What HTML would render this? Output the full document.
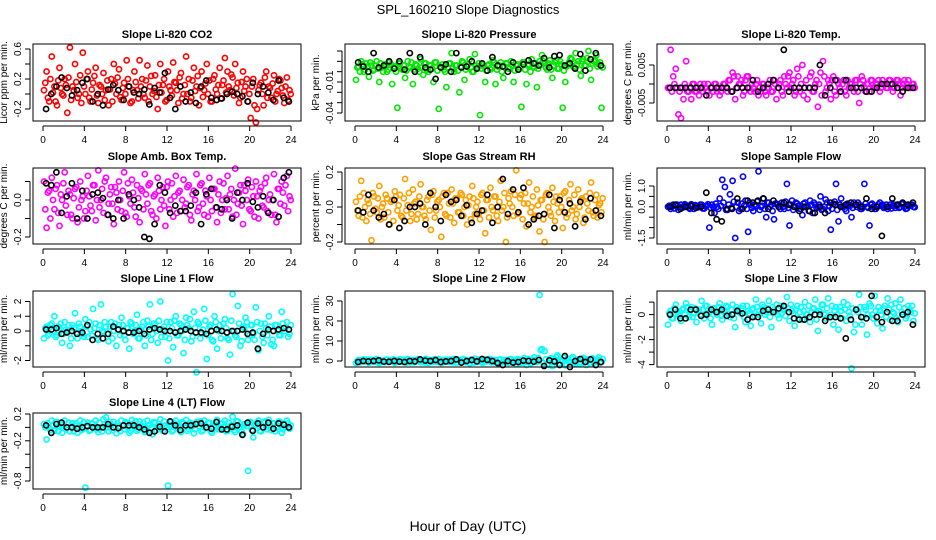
<!DOCTYPE html>
<html><head><meta charset="utf-8"><style>
html,body{margin:0;padding:0;background:#fff;}
svg{display:block;font-family:"Liberation Sans",sans-serif;}
</style></head><body>
<svg id="chart" width="936" height="540" viewBox="0 0 936 540" xmlns="http://www.w3.org/2000/svg">
<rect width="936" height="540" fill="#fff"/>
<text x="468" y="14" font-size="13" text-anchor="middle">SPL_160210  Slope Diagnostics</text>
<text x="468" y="531" font-size="14" text-anchor="middle">Hour of Day (UTC)</text>
<g id="panels"></g>
</svg>
<script>
const hoursC=[0.1,0.35,0.6,0.85,1.1,1.35,1.6,1.85,2.1,2.35,2.6,2.85,3.1,3.35,3.6,3.85,4.1,4.35,4.6,4.85,5.1,5.35,5.6,5.85,6.1,6.35,6.6,6.85,7.1,7.35,7.6,7.85,8.1,8.35,8.6,8.85,9.1,9.35,9.6,9.85,10.1,10.35,10.6,10.85,11.1,11.35,11.6,11.85,12.1,12.35,12.6,12.85,13.1,13.35,13.6,13.85,14.1,14.35,14.6,14.85,15.1,15.35,15.6,15.85,16.1,16.35,16.6,16.85,17.1,17.35,17.6,17.85,18.1,18.35,18.6,18.85,19.1,19.35,19.6,19.85,20.1,20.35,20.6,20.85,21.1,21.35,21.6,21.85,22.1,22.35,22.6,22.85,23.1,23.35,23.6,23.85];
const hoursC2=[0.22,0.47,0.72,0.97,1.22,1.47,1.72,1.97,2.22,2.47,2.72,2.97,3.22,3.47,3.72,3.97,4.22,4.47,4.72,4.97,5.22,5.47,5.72,5.97,6.22,6.47,6.72,6.97,7.22,7.47,7.72,7.97,8.22,8.47,8.72,8.97,9.22,9.47,9.72,9.97,10.22,10.47,10.72,10.97,11.22,11.47,11.72,11.97,12.22,12.47,12.72,12.97,13.22,13.47,13.72,13.97,14.22,14.47,14.72,14.97,15.22,15.47,15.72,15.97,16.22,16.47,16.72,16.97,17.22,17.47,17.72,17.97,18.22,18.47,18.72,18.97,19.22,19.47,19.72,19.97,20.22,20.47,20.72,20.97,21.22,21.47,21.72,21.97,22.22,22.47,22.72,22.97,23.22,23.47,23.72,23.97];
const hoursK=[0.3,0.8,1.3,1.8,2.3,2.8,3.3,3.8,4.3,4.8,5.3,5.8,6.3,6.8,7.3,7.8,8.3,8.8,9.3,9.8,10.3,10.8,11.3,11.8,12.3,12.8,13.3,13.8,14.3,14.8,15.3,15.8,16.3,16.8,17.3,17.8,18.3,18.8,19.3,19.8,20.3,20.8,21.3,21.8,22.3,22.8,23.3,23.8];
const xTicks=[0,4,8,12,16,20,24];

const co2=[0.05,0.3,-0.1,0.5,0.1,-0.15,0.35,0.0,0.2,-0.25,0.62,0.1,0.4,-0.05,0.25,0.55,0.0,0.3,-0.1,0.15,0.35,-0.12,0.1,0.28,0.05,-0.15,0.2,0.4,0.0,0.33,-0.08,0.15,0.45,0.1,-0.1,0.3,0.05,0.45,0.2,-0.05,0.38,0.1,0.0,0.25,-0.2,0.4,0.12,-0.1,0.3,0.05,0.42,0.15,-0.12,0.28,0.0,0.5,0.2,-0.05,0.35,0.1,-0.15,0.3,0.05,0.4,0.18,-0.1,0.25,0.0,0.35,0.12,0.48,0.3,0.05,0.22,0.4,0.15,-0.05,0.3,0.1,-0.1,-0.32,0.2,-0.38,0.05,0.15,-0.15,0.3,0.1,-0.05,0.25,0.0,0.2,0.08,-0.12,0.22,0.05];
const co2B=[0.15,-0.05,0.2,0.02,-0.1,0.18,0.08,-0.02,0.12,0.22,-0.08,0.05,0.16,0.0,-0.12,0.1,0.2,-0.05,0.06,0.24,-0.02,0.12,0.0,-0.08,0.18,0.06,-0.1,0.14,0.22,-0.04,0.08,0.0,0.2,-0.12,0.05,0.16,-0.06,0.1,0.0,0.18,-0.1,0.24,0.04,-0.04,0.12,0.02,0.2,-0.08,0.1,-0.02,0.16,0.05,0.22,-0.06,0.12,0.0,-0.1,0.18,0.04,0.24,0.08,-0.04,0.14,0.0,-0.1,0.2,0.06,0.12,-0.06,0.18,0.02,0.1,0.26,-0.02,0.08,-0.12,0.16,0.04,0.2,0.0,0.1,-0.15,-0.2,0.12,0.0,0.22,-0.05,0.08,0.14,-0.1,0.04,0.18,-0.02,0.1,-0.08,0.0];
const co2K=[-0.2,0.0,0.1,0.22,0.08,-0.02,0.05,0.15,0.2,-0.1,0.0,-0.15,0.06,0.12,0.05,-0.08,0.1,0.02,0.0,0.06,-0.14,0.08,0.02,0.28,-0.05,-0.2,0.1,-0.1,0.02,-0.12,0.1,0.18,-0.05,-0.08,-0.06,0.0,0.03,0.0,-0.03,-0.1,0.15,0.0,0.1,0.02,-0.08,0.18,-0.05,-0.1];
const pres=[-0.008,0.005,0.01,0.0,0.008,-0.005,0.006,0.002,0.01,-0.01,0.004,0.007,0.0,0.009,-0.012,0.005,-0.035,0.008,0.002,-0.006,0.01,0.004,-0.012,0.007,0.003,0.012,-0.003,0.008,0.0,0.006,-0.01,0.009,-0.036,0.004,0.002,-0.015,0.008,0.018,0.0,0.006,-0.02,0.01,-0.008,0.005,0.012,0.0,0.017,0.004,-0.042,0.007,-0.01,0.006,0.002,0.011,-0.012,0.005,0.009,-0.006,0.008,0.003,0.01,-0.01,0.006,0.002,-0.034,0.009,-0.012,0.007,0.012,0.004,-0.015,0.01,0.016,0.008,0.002,0.011,-0.006,0.009,0.003,0.01,-0.035,-0.01,0.007,0.013,0.005,0.018,0.01,-0.004,0.012,0.006,0.02,-0.008,0.01,0.016,0.007,-0.035];
const presB=[0.004,0.0,0.007,0.002,0.005,0.009,0.001,0.006,0.003,0.008,0.0,0.005,0.002,0.007,0.004,0.0,0.008,0.003,0.006,0.001,0.005,0.009,0.002,0.006,0.0,0.004,0.008,0.002,0.006,0.003,0.009,0.001,0.005,0.007,0.0,0.004,0.008,0.003,0.006,0.001,0.005,0.009,0.002,0.007,0.004,0.0,0.006,0.008,0.003,0.005,0.001,0.007,0.004,0.009,0.002,0.006,0.0,0.005,0.008,0.003,0.006,0.001,0.007,0.004,0.009,0.002,0.006,0.0,0.005,0.008,0.003,0.007,0.01,0.004,0.008,0.002,0.006,0.011,0.003,0.007,0.001,0.005,0.009,0.012,0.004,0.007,0.002,0.01,0.006,0.013,0.003,0.008,0.011,0.005,0.009,0.004];
const presK=[0.009,0.005,0.0,0.018,0.004,0.006,0.01,0.003,0.01,0.002,0.018,0.0,0.014,0.004,0.002,-0.007,0.004,0.007,0.0,0.018,0.004,0.005,0.01,0.003,0.008,0.001,0.014,0.006,0.005,0.0,0.009,0.002,0.007,0.011,0.008,0.006,0.013,0.004,0.015,0.016,0.006,0.008,0.003,0.017,0.001,0.012,0.018,0.006];
const ltemp=[-0.001,0.009,0.002,0.004,-0.008,-0.009,-0.004,0.006,-0.002,-0.004,0.0,-0.002,-0.003,-0.001,0.0,-0.002,-0.003,-0.001,0.0,-0.002,-0.003,-0.001,0.0,-0.002,0.001,0.003,-0.004,0.002,0.0,-0.003,0.001,0.002,-0.002,-0.001,0.0,-0.003,-0.002,0.0,-0.003,-0.001,-0.002,0.001,-0.004,0.0,-0.002,0.002,-0.001,0.003,0.0,-0.003,0.004,-0.002,0.005,-0.001,-0.004,0.002,-0.002,0.0,-0.006,0.003,0.006,-0.002,0.001,-0.004,0.002,-0.003,0.0,-0.002,0.001,-0.003,-0.001,0.0,-0.002,0.001,-0.005,0.002,-0.001,0.0,-0.002,0.001,-0.001,0.0,-0.002,0.001,0.0,-0.001,0.001,-0.002,0.0,0.001,-0.003,0.0,-0.001,0.001,-0.001,0.0];
const ltempB=[-0.001,-0.002,0.0,-0.001,-0.002,-0.001,0.0,-0.002,-0.001,0.0,-0.002,-0.001,0.0,-0.002,-0.001,0.0,-0.001,-0.002,0.0,-0.001,-0.002,0.0,-0.001,0.001,-0.002,0.002,-0.001,0.0,0.001,-0.002,0.002,-0.001,0.0,-0.002,0.001,-0.001,0.0,-0.002,-0.001,0.001,-0.002,0.0,-0.001,0.001,-0.003,0.0,0.002,-0.001,0.001,-0.002,0.002,0.0,-0.003,0.001,-0.001,0.003,-0.002,0.001,0.0,-0.003,0.002,-0.001,0.0,0.001,-0.002,0.001,-0.001,0.0,-0.002,0.001,0.0,-0.001,0.001,-0.002,0.0,0.001,-0.002,0.0,0.001,-0.001,0.0,0.001,-0.001,0.0,-0.001,0.001,0.0,-0.001,0.001,0.0,-0.001,0.001,0.0,-0.001,0.0,-0.001];
const ltempK=[-0.001,-0.001,-0.001,-0.001,-0.001,-0.001,-0.001,-0.003,-0.001,-0.001,-0.001,-0.001,-0.002,-0.001,-0.001,-0.001,0.001,-0.002,-0.001,0.0,0.001,-0.001,0.009,-0.002,-0.001,-0.001,-0.001,-0.001,-0.001,0.005,-0.003,-0.001,0.001,-0.002,0.001,-0.001,-0.001,-0.001,-0.002,-0.002,-0.001,0.0,0.0,0.0,-0.001,-0.002,-0.001,-0.001];
const amb=[0.1,-0.15,0.05,0.12,-0.05,0.08,-0.14,0.0,0.15,-0.08,0.03,-0.1,0.06,-0.12,0.1,0.02,-0.06,0.13,-0.03,0.08,-0.11,0.16,0.0,-0.07,0.12,-0.02,0.07,-0.13,0.04,0.1,-0.06,0.15,-0.09,0.02,0.11,-0.04,0.08,-0.12,0.05,0.14,-0.02,0.09,-0.08,0.03,0.12,-0.05,0.07,-0.14,0.1,0.0,-0.09,0.13,0.04,-0.06,0.11,-0.02,0.08,-0.11,0.05,0.14,-0.04,0.09,-0.08,0.02,0.12,-0.06,0.06,-0.12,0.1,0.0,-0.05,0.13,0.03,-0.09,0.17,-0.02,0.08,-0.13,0.05,0.11,-0.06,0.02,0.1,-0.1,0.07,-0.04,0.12,0.0,-0.08,0.14,-0.12,0.06,0.1,-0.03,0.13,0.02];
const ambB=[-0.05,0.04,-0.1,0.0,0.06,-0.07,0.03,0.09,-0.03,0.05,-0.08,0.01,0.07,-0.04,0.0,-0.1,0.05,0.02,-0.06,0.08,0.0,-0.04,0.06,0.1,-0.08,0.03,-0.02,0.07,-0.05,0.0,0.05,-0.07,0.09,-0.02,0.04,-0.09,0.01,0.06,-0.05,0.03,0.08,-0.06,0.02,-0.1,0.05,0.0,-0.03,0.07,-0.05,0.09,0.02,-0.07,0.05,0.0,-0.04,0.07,-0.08,0.03,0.0,-0.06,0.08,-0.02,0.05,-0.09,0.0,0.06,-0.04,0.03,-0.07,0.09,0.01,-0.05,0.06,0.0,-0.08,0.04,-0.03,0.08,0.0,-0.05,0.07,-0.09,0.02,0.05,-0.03,0.09,-0.06,0.03,0.0,-0.08,0.06,-0.02,0.04,0.08,-0.06,0.0];
const ambK=[0.09,0.08,0.15,-0.07,0.02,0.09,-0.1,0.05,-0.1,0.03,0.04,0.01,-0.08,-0.1,0.0,-0.1,0.03,0.0,-0.04,-0.2,-0.21,-0.13,0.08,0.04,-0.07,-0.03,-0.06,-0.06,-0.03,0.04,-0.13,0.03,0.06,-0.04,-0.05,0.0,-0.1,0.04,0.0,0.09,-0.01,-0.04,0.02,-0.07,0.0,-0.09,0.12,0.15];
const rh=[0.03,-0.05,0.15,0.08,-0.08,0.02,-0.19,0.06,-0.03,0.12,0.0,-0.06,0.05,-0.1,0.04,0.09,-0.02,0.07,-0.06,0.16,0.01,-0.08,0.1,0.03,-0.04,0.13,0.0,-0.07,0.06,-0.13,0.09,-0.02,0.04,-0.17,0.08,-0.05,0.02,0.1,-0.09,0.05,-0.03,0.07,0.0,-0.1,0.06,0.12,-0.04,0.03,-0.07,0.08,-0.15,0.04,0.11,-0.02,0.06,-0.08,0.15,0.0,-0.2,0.05,0.09,-0.05,0.21,-0.03,0.07,0.02,-0.11,0.14,0.0,-0.06,0.1,-0.14,0.04,-0.2,0.08,-0.03,0.11,-0.08,0.02,0.06,-0.12,0.09,-0.04,0.13,0.0,-0.07,0.1,0.04,-0.09,0.06,-0.02,0.14,-0.05,0.07,0.01,-0.03];
const rhB=[-0.02,0.06,-0.06,0.0,0.04,-0.04,0.08,-0.01,0.05,-0.07,0.02,0.07,-0.03,0.03,-0.08,0.06,0.01,-0.05,0.05,-0.02,0.08,-0.04,0.02,-0.07,0.06,0.0,-0.05,0.04,-0.02,0.07,-0.06,0.03,0.0,0.06,-0.04,0.08,-0.06,0.02,0.05,-0.03,0.08,-0.05,0.04,0.01,-0.07,0.05,0.0,-0.04,0.07,-0.02,0.04,-0.06,0.0,0.06,-0.05,0.03,-0.02,0.08,-0.06,0.02,0.0,0.07,-0.04,0.05,-0.07,0.08,0.02,-0.03,0.06,-0.05,0.01,0.04,-0.07,0.07,0.0,-0.05,0.03,0.06,-0.03,0.0,0.08,-0.06,0.04,-0.02,0.07,-0.04,0.0,0.05,-0.06,0.02,0.08,-0.03,0.04,-0.06,0.02,0.05];
const rhK=[-0.02,-0.03,0.07,-0.02,-0.06,-0.04,-0.1,0.04,-0.12,-0.08,0.0,0.0,0.02,-0.1,0.08,0.0,-0.08,0.07,0.03,0.04,-0.05,0.01,-0.09,-0.04,-0.02,0.07,-0.09,0.0,0.16,-0.04,0.1,-0.03,0.11,-0.1,-0.07,-0.05,-0.04,0.07,-0.12,0.04,-0.03,0.02,-0.11,0.03,-0.07,0.05,-0.02,-0.05];
const samp=[0.0,-0.1,0.1,0.05,-0.15,0.1,0.0,0.08,-0.05,0.12,-0.1,0.05,0.0,0.1,-0.08,0.05,-1.0,0.1,-0.3,0.0,0.4,1.3,0.95,-0.15,0.6,1.25,-1.5,0.2,-0.1,1.45,0.3,-1.2,0.1,-0.2,0.05,1.7,0.0,0.4,-0.5,0.2,0.1,-0.6,0.15,0.0,0.2,-0.1,1.1,-0.9,0.3,0.0,0.15,-0.1,-0.4,0.2,0.05,0.3,-0.3,0.1,0.0,0.5,-0.1,0.35,-0.2,-1.1,0.15,1.1,-0.7,0.4,0.0,-0.2,0.1,-0.5,0.2,0.0,0.1,-0.1,1.1,0.0,-0.9,0.15,-0.1,0.0,0.2,0.1,0.0,-0.1,0.1,0.05,-0.05,0.1,0.0,0.15,-0.1,0.05,0.1,0.0];
const sampB=[0.05,0.0,-0.08,0.1,0.0,-0.05,0.12,0.02,-0.1,0.05,0.08,-0.03,0.1,-0.08,0.03,0.12,-0.05,0.0,0.15,-0.1,0.05,0.2,-0.15,0.1,-0.05,0.25,0.0,-0.2,0.15,0.05,-0.1,0.2,-0.05,0.1,0.25,-0.15,0.05,-0.1,0.2,0.0,-0.2,0.15,0.1,-0.1,0.0,0.25,-0.05,0.1,-0.15,0.2,0.05,-0.1,0.15,0.0,-0.2,0.1,0.2,-0.05,0.1,-0.15,0.0,0.2,0.05,-0.1,0.25,-0.15,0.1,0.0,-0.1,0.15,0.05,-0.05,0.1,0.2,-0.1,0.0,0.15,-0.05,0.1,0.0,-0.1,0.12,0.05,-0.05,0.1,0.0,-0.08,0.1,0.05,-0.05,0.12,0.0,-0.08,0.05,0.1,-0.02];
const sampK=[0.0,0.1,-0.1,0.0,0.05,-0.05,0.0,0.68,-0.3,-0.6,-0.7,-0.1,-0.1,0.4,-0.1,0.3,0.2,0.3,0.4,-0.1,0.3,0.0,0.2,0.1,0.0,-0.2,0.0,-0.2,-0.3,0.0,-0.3,0.2,0.1,0.0,0.1,0.2,0.1,0.0,0.4,-0.1,0.0,-1.4,0.0,0.4,0.1,0.2,0.1,0.2];
const line1=[-0.5,0.3,-0.2,0.5,1.0,-0.3,0.2,-0.8,0.6,0.0,-1.0,0.4,1.2,-0.5,0.3,-0.2,0.8,-0.4,0.1,1.5,0.5,-0.6,1.8,-0.1,0.3,-0.7,0.6,0.0,-1.0,0.4,0.9,-0.3,0.2,-1.2,0.5,0.0,1.1,-0.5,0.3,-1.0,0.7,1.8,-0.2,0.4,-0.8,2.0,0.1,-0.4,-2.0,0.6,-1.1,1.0,-0.3,0.4,-1.5,0.9,0.2,-0.7,1.3,-2.8,0.5,-0.2,1.5,-1.9,0.3,-0.6,1.0,-1.2,0.4,0.0,0.8,-0.5,-1.6,2.5,-0.3,1.7,-1.0,0.3,0.9,-0.6,0.4,-0.2,1.6,-1.3,0.5,-0.8,0.2,1.0,-0.9,-1.0,0.4,-0.3,1.3,0.0,0.6,-0.2];
const line1B=[0.2,-0.3,0.4,0.0,-0.4,0.3,0.5,-0.2,0.1,0.4,-0.5,0.2,-0.1,0.5,0.0,-0.4,0.3,0.6,-0.3,0.2,-0.5,0.4,0.0,0.6,-0.2,0.3,-0.5,0.5,0.1,-0.3,0.4,-0.6,0.2,0.6,-0.2,0.4,-0.5,0.1,0.6,-0.3,0.3,-0.6,0.5,0.0,0.7,-0.4,0.3,0.6,-0.5,0.2,0.7,-0.3,0.5,0.0,-0.6,0.4,0.8,-0.4,0.2,0.6,-0.5,0.1,0.7,-0.3,0.4,-0.7,0.6,0.0,-0.5,0.5,0.2,-0.6,0.7,0.0,-0.4,0.5,-0.7,0.2,0.6,-0.3,0.4,-0.6,0.6,0.0,-0.4,0.5,-0.3,0.3,-0.6,0.4,0.0,-0.3,0.5,0.2,-0.4,0.4];
const line1K=[0.1,0.1,0.2,-0.2,-0.1,0.0,-0.2,-0.1,0.4,-0.6,-0.2,-0.5,-0.2,0.3,0.1,0.0,-0.1,-0.1,0.0,-0.2,0.1,0.2,0.1,0.0,0.0,-0.1,0.0,0.1,0.0,-0.1,-0.1,-0.2,0.0,0.1,0.0,-0.1,0.0,0.0,0.1,-0.2,-0.1,-1.2,-0.2,0.1,0.0,0.1,0.2,0.1];
const line2=[-1.0,0.5,-0.5,0.8,0.0,-0.8,0.6,-0.3,0.9,-1.0,0.2,-0.6,0.7,-0.2,0.5,-0.9,0.3,0.8,-0.5,0.0,1.0,-0.7,0.4,-0.3,0.8,-0.6,0.2,1.1,-0.9,0.0,0.6,-0.4,0.9,-1.0,0.3,0.7,-0.5,0.1,1.0,-0.8,0.5,-0.3,0.8,0.0,-1.1,0.6,1.2,-0.4,0.3,-0.9,0.7,0.0,1.0,-0.6,0.4,-1.2,0.8,-0.2,0.5,-1.0,0.9,0.1,-1.5,0.6,-0.8,1.5,-2.0,0.3,-1.0,1.8,-0.5,33.0,6.0,5.0,-1.5,1.0,-2.5,0.5,2.8,-1.8,0.4,-2.2,1.2,-0.5,2.0,-1.5,0.8,-0.7,1.5,-2.0,0.3,1.0,-1.0,0.5,1.8,-0.5];
const line2B=[0.0,-0.6,0.4,-0.2,0.7,-0.5,0.1,0.5,-0.7,0.3,-0.1,0.6,-0.4,0.2,0.8,-0.6,0.0,-0.3,0.6,-0.8,0.3,0.1,-0.6,0.7,-0.2,0.4,-0.8,0.0,0.5,-0.5,0.8,0.2,-0.6,0.4,-0.3,0.0,0.7,-0.7,0.3,0.5,-0.4,0.9,-0.6,0.2,0.6,-0.8,0.0,0.7,-0.5,0.4,-0.2,0.9,-0.7,0.1,-0.4,0.6,-0.8,0.3,0.0,0.8,-0.5,0.5,0.9,-1.0,0.3,-0.4,1.0,-1.2,0.6,0.0,1.5,5.5,-1.0,0.8,-1.8,1.4,-0.6,2.0,-1.2,0.5,1.6,-1.5,0.0,1.2,-0.8,0.6,-1.4,1.0,-0.5,0.8,-1.0,1.3,-0.4,0.7,-0.9,1.0];
const line2K=[-0.5,0.0,-0.2,0.0,0.3,-0.3,-0.4,0.0,-0.3,-0.5,0.0,-0.2,0.8,0.2,0.0,0.5,-0.5,-0.2,0.0,0.8,-0.8,0.0,0.5,-0.2,1.0,0.6,0.0,-1.0,-2.0,0.0,-0.8,-0.5,0.2,0.0,-0.3,0.5,-2.5,0.3,-0.2,-2.0,2.5,-3.0,0.0,1.0,-0.5,0.8,-2.0,-0.5];
const line3=[-0.8,0.3,-0.3,0.8,0.0,-0.5,0.5,0.9,-0.2,0.6,0.1,-0.6,0.4,1.1,-0.3,0.7,0.2,-0.8,0.5,0.0,0.9,-0.4,0.3,0.6,-0.2,0.8,-1.0,0.4,0.1,0.7,-0.6,0.3,-0.9,0.5,1.2,0.0,-0.7,0.6,0.2,1.1,-1.0,0.4,0.8,-0.3,0.1,0.6,1.4,-0.5,0.3,-0.9,0.7,0.2,-0.4,1.0,0.0,-0.6,0.5,1.2,-1.3,0.2,0.8,-0.3,1.3,0.0,-0.8,0.6,-1.2,0.3,1.0,-0.5,0.2,-4.3,-1.4,0.4,1.6,-0.8,0.6,-1.6,0.9,0.0,1.5,-0.7,0.3,-1.1,0.7,1.3,-0.4,0.2,0.9,-0.6,1.2,0.0,-0.3,0.7,0.2,-0.5];
const line3B=[0.1,-0.3,0.5,0.2,-0.1,0.4,0.0,0.6,0.3,-0.2,0.5,0.2,0.0,0.4,0.7,0.1,-0.3,0.5,0.2,0.6,-0.1,0.3,0.7,0.0,0.4,-0.3,0.6,0.2,0.5,-0.2,0.7,0.1,0.4,-0.1,0.6,0.3,0.8,0.0,0.5,-0.2,0.6,0.2,0.0,0.7,0.4,-0.1,0.5,0.8,0.1,0.4,-0.3,0.6,0.3,0.0,0.7,0.2,0.5,-0.4,0.3,0.8,0.0,0.5,-0.2,0.7,0.3,0.0,0.6,-0.3,0.4,0.8,-0.1,0.5,-0.8,0.2,0.6,-0.2,0.4,0.0,0.7,-0.3,0.3,0.6,0.0,0.5,-0.2,0.4,0.8,0.1,-0.3,0.6,0.2,0.5,-0.1,0.4,0.7,0.1];
const line3K=[0.0,0.4,-0.3,-0.3,0.4,0.4,-0.1,0.0,0.4,0.2,0.4,-0.1,0.0,0.3,0.1,-0.4,-0.2,-0.2,0.3,0.4,0.2,0.5,0.7,0.2,-0.3,-0.4,-0.4,-0.2,0.0,0.0,-0.5,-0.2,-0.2,-0.3,-1.9,-0.4,0.4,-0.2,-0.3,1.5,-0.2,-0.6,0.2,-0.5,-0.5,0.0,0.2,-0.8];
const line4=[0.05,-0.18,0.0,0.1,-0.05,0.08,0.02,-0.08,0.1,0.0,-0.06,0.06,0.03,-0.08,0.1,-0.02,-0.9,0.07,-0.04,0.05,0.1,-0.07,0.0,0.12,0.15,-0.06,0.04,0.08,-0.09,0.02,0.1,-0.03,0.06,-0.08,0.11,0.0,-0.05,0.09,0.02,-0.07,0.1,0.04,-0.1,0.07,0.0,0.12,-0.05,0.03,-0.87,0.08,-0.04,0.1,0.0,-0.07,0.06,0.11,-0.02,0.05,-0.09,0.08,0.02,-0.06,0.1,0.0,0.07,-0.08,0.04,0.11,-0.03,0.06,0.1,-0.05,0.02,0.16,-0.07,0.09,0.0,-0.1,0.05,-0.65,0.08,-0.15,0.04,0.1,-0.06,0.07,0.01,0.11,-0.04,0.06,0.0,0.09,-0.08,0.05,0.1,-0.02];
const line4B=[0.0,0.06,-0.04,0.03,0.08,-0.06,0.04,0.0,-0.03,0.07,0.02,-0.06,0.06,0.0,-0.04,0.08,0.03,-0.05,0.06,0.0,-0.03,0.07,-0.06,0.04,0.0,0.08,-0.04,0.02,0.06,-0.06,0.03,0.08,0.0,-0.05,0.05,0.09,-0.03,0.02,0.07,-0.06,0.03,0.0,0.08,-0.04,0.05,-0.02,0.09,0.0,0.04,-0.06,0.06,0.02,-0.04,0.08,0.0,-0.05,0.07,0.02,-0.03,0.06,0.09,-0.04,0.03,0.07,-0.06,0.0,0.08,-0.03,0.05,0.01,-0.06,0.07,0.03,-0.04,0.09,0.0,-0.06,0.05,0.02,0.08,-0.04,0.03,0.07,-0.05,0.0,0.09,-0.03,0.04,0.06,-0.06,0.02,0.07,-0.03,0.0,0.06,0.03];
const line4K=[0.03,-0.08,0.05,0.07,0.0,0.0,-0.02,0.0,0.02,0.0,0.0,0.0,0.05,0.0,-0.01,0.03,0.03,0.03,0.0,-0.03,-0.08,-0.06,0.01,-0.06,0.09,0.03,-0.04,0.03,0.03,0.05,0.06,0.0,-0.02,0.08,-0.03,-0.03,0.01,0.03,-0.11,0.07,-0.05,0.06,0.0,0.07,-0.02,0.06,0.04,0.0];

const yTicks1=[-0.2,0,0.2,0.4,0.6], yLab1=["-0.2","","0.2","","0.6"];
const yTicks2=[-0.04,-0.03,-0.02,-0.01,0,0.01,0.02], yLab2=["-0.04","","","-0.01","","",""];
const yTicks3=[-0.005,0,0.005], yLab3=["-0.005","","0.005"];
const yTicks4=[-0.2,-0.1,0,0.1], yLab4=["-0.2","","0.0",""];
const yTicks5=[-0.2,-0.1,0,0.1,0.2], yLab5=["-0.2","","0.0","","0.2"];
const yTicks6=[-1.5,-1,-0.5,0,0.5,1], yLab6=["-1.5","","","0.0","","1.0"];
const yTicks7=[-2,-1,0,1,2], yLab7=["-2","","0","1","2"];
const yTicks8=[0,10,20,30], yLab8=["0","10","20","30"];
const yTicks9=[-4,-3,-2,-1,0,1], yLab9=["-4","","-2","","0",""];
const yTicks10=[-0.8,-0.6,-0.4,-0.2,0,0.2], yLab10=["-0.8","","","-0.2","","0.2"];

const layout=[
 {name:"co2",title:"Slope Li-820 CO2",ylab:"Licor ppm per min.",c:0,r:0,cal:[0.6,49,-0.2,109],col:"#ff0000",v:co2,b:co2B,k:co2K,t:yTicks1,l:yLab1},
 {name:"pressure",title:"Slope Li-820 Pressure",ylab:"kPa per min.",c:1,r:0,cal:[0.02,51,-0.04,113],col:"#00e800",v:pres,b:presB,k:presK,t:yTicks2,l:yLab2},
 {name:"li820-temp",title:"Slope Li-820 Temp.",ylab:"degrees C per min.",c:2,r:0,cal:[0.005,65,-0.005,103],col:"#ff00ff",v:ltemp,b:ltempB,k:ltempK,t:yTicks3,l:yLab3},
 {name:"amb-box-temp",title:"Slope Amb. Box Temp.",ylab:"degrees C per min.",c:0,r:1,cal:[0,200,-0.2,237],col:"#ff00ff",v:amb,b:ambB,k:ambK,t:yTicks4,l:yLab4},
 {name:"gas-stream-rh",title:"Slope Gas Stream RH",ylab:"percent per min.",c:1,r:1,cal:[0.2,172,-0.2,242],col:"#ffa000",v:rh,b:rhB,k:rhK,t:yTicks5,l:yLab5},
 {name:"sample-flow",title:"Slope Sample Flow",ylab:"ml/min per min.",c:2,r:1,cal:[1,186,-1.5,238],col:"#0000ff",v:samp,b:sampB,k:sampK,t:yTicks6,l:yLab6},
 {name:"line1-flow",title:"Slope Line 1 Flow",ylab:"ml/min per min.",c:0,r:2,cal:[2,301.5,-2,360.5],col:"#00ffff",v:line1,b:line1B,k:line1K,t:yTicks7,l:yLab7},
 {name:"line2-flow",title:"Slope Line 2 Flow",ylab:"ml/min per min.",c:1,r:2,cal:[30,301,0,361],col:"#00ffff",v:line2,b:line2B,k:line2K,t:yTicks8,l:yLab8},
 {name:"line3-flow",title:"Slope Line 3 Flow",ylab:"ml/min per min.",c:2,r:2,cal:[0,314.6,-4,364.6],col:"#00ffff",v:line3,b:line3B,k:line3K,t:yTicks9,l:yLab9},
 {name:"line4-flow",title:"Slope Line 4 (LT) Flow",ylab:"ml/min per min.",c:0,r:3,cal:[0.2,414,-0.8,481],col:"#00ffff",v:line4,b:line4B,k:line4K,t:yTicks10,l:yLab10}
];
const colX0=[43,355,667], rowTop=[44,168,291,413], rowBot=[121,244,367,489], titleY=[38,160,282,406];
const NS="http://www.w3.org/2000/svg";
const root=document.getElementById('panels');
function mk(tag,attrs,parent){const e=document.createElementNS(NS,tag);for(const k in attrs)e.setAttribute(k,attrs[k]);parent.appendChild(e);return e;}
layout.forEach(p=>{
  const x0=colX0[p.c], pxh=248/24;
  const xs=h=>x0+h*pxh;
  const [v1,p1,v2,p2]=p.cal;
  const ys=v=>p1+(v-v1)*(p2-p1)/(v2-v1);
  const top=rowTop[p.r], bot=rowBot[p.r], left=x0-10, right=x0+258;
  const g=mk('g',{},root);
  
  
  const t=mk('text',{x:(left+right)/2,y:titleY[p.r],'font-size':11,'font-weight':'bold','text-anchor':'middle'},g);
  t.textContent=p.title;
  
  
  const pts=mk('g',{fill:'none','stroke-width':1.6},g);
  
  
  p.v.forEach((v,i)=>{ if(hoursC[i]===undefined)return;
    const c=mk('circle',{cx:xs(hoursC[i]).toFixed(1),cy:ys(v).toFixed(1),r:2.6,stroke:p.col},pts);
    
    
  });
  p.b.forEach((v,i)=>{ if(hoursC2[i]===undefined)return;
    const c=mk('circle',{cx:xs(hoursC2[i]).toFixed(1),cy:ys(v).toFixed(1),r:2.6,stroke:p.col},pts);
    
    
  });
  const kp=mk('g',{fill:'none','stroke-width':1.6},g);
  
  
  p.k.forEach((v,i)=>{ if(hoursK[i]===undefined)return;
    const c=mk('circle',{cx:xs(hoursK[i]).toFixed(1),cy:ys(v).toFixed(1),r:2.6,stroke:'#000'},kp);
    
    
  });
  const box=mk('rect',{x:left,y:top,width:right-left,height:bot-top,fill:'none',stroke:'#000','stroke-width':1},g);
  
  
  const xa=mk('g',{stroke:'#000','stroke-width':1},g);
  
  
  const ay=bot+5;
  mk('line',{x1:xs(xTicks[0]),y1:ay,x2:xs(xTicks[xTicks.length-1]),y2:ay},xa);
  xTicks.forEach(h=>{
    mk('line',{x1:xs(h),y1:ay,x2:xs(h),y2:ay+5},xa);
    const tl=mk('text',{x:xs(h),y:ay+17,'font-size':10,'text-anchor':'middle',stroke:'none',fill:'#000'},xa);
    tl.textContent=h;
    
    
  });
  const ya=mk('g',{stroke:'#000','stroke-width':1},g);
  
  
  const ax=left-3;
  const tv=p.t.map(ys);
  mk('line',{x1:ax,y1:Math.min(...tv),x2:ax,y2:Math.max(...tv)},ya);
  p.t.forEach((v,i)=>{
    const yy=ys(v);
    mk('line',{x1:ax-5,y1:yy,x2:ax,y2:yy},ya);
    if(p.l[i]){
      const tl=mk('text',{x:ax-9,y:yy,'font-size':10,'text-anchor':'middle',stroke:'none',fill:'#000',transform:`rotate(-90 ${ax-9} ${yy})`},ya);
      tl.textContent=p.l[i];
      
      
    }
  });
  const yt=mk('text',{x:left-26,y:(top+bot)/2,'font-size':10,'text-anchor':'middle',transform:`rotate(-90 ${left-26} ${(top+bot)/2})`},g);
  yt.textContent=p.ylab;
  
  
});
</script>
</body></html>
